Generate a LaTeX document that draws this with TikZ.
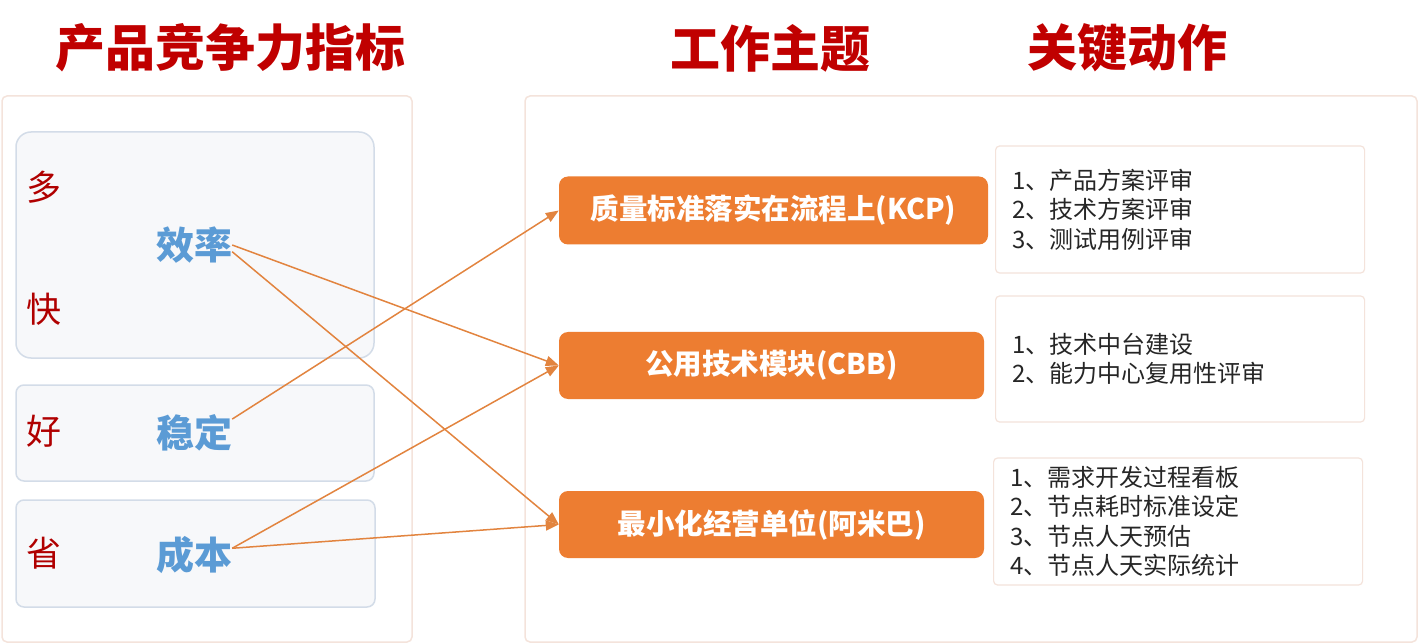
\documentclass[tikz,border=0pt]{standalone}
\usepackage{fontspec}
\setmainfont{Noto Sans CJK SC}
\usetikzlibrary{arrows.meta}
\definecolor{titlered}{HTML}{C00000}
\definecolor{labelred}{HTML}{B00000}
\definecolor{labelblue}{HTML}{5B9BD5}
\definecolor{topicorange}{HTML}{ED7D31}
\definecolor{linkorange}{HTML}{E2843F}
\definecolor{panelline}{HTML}{F4E3DB}
\definecolor{groupline}{HTML}{D3DCE8}
\definecolor{groupfill}{HTML}{F7F8FA}
\pgfdeclarelayer{background}
\pgfsetlayers{background,main}
\tikzstyle{title}=[inner sep=0pt, text=titlered, font=\bfseries\fontsize{50}{50}\selectfont]
\tikzstyle{red}=[inner sep=0pt, text=labelred, font=\fontsize{35}{35}\selectfont]
\tikzstyle{blue}=[inner sep=0pt, text=labelblue, font=\bfseries\fontsize{38}{38}\selectfont]
\tikzstyle{topic}=[rectangle, rounded corners=9pt, fill=topicorange, text=white,
    font=\bfseries\fontsize{28.5}{28.5}\selectfont, inner sep=0pt]
\tikzstyle{action}=[draw=panelline, line width=1.2pt, rounded corners=4pt, fill=white,
    anchor=west, text width=335pt, inner xsep=17pt, align=left, text=black!85,
    font=\fontsize{24}{29.5}\selectfont]
\tikzstyle{link}=[draw=linkorange, line width=1.5pt, -{Triangle[length=13pt,width=10pt]}]

\begin{document}
\begin{tikzpicture}[x=1pt,y=-1pt]
  \useasboundingbox (0,0) rectangle (1419,644);
  \node at (230, 48) (t1)[title] {产品竞争力指标};
  \node at (770, 48) (t2)[title] {工作主题};
  \node at (1127, 48) (t3)[title] {关键动作};

  \node at (44, 187) (duo)[red] {多};
  \node at (44, 309) (kuai)[red] {快};
  \node at (44, 431) (hao)[red] {好};
  \node at (44, 553) (sheng)[red] {省};

  \node at (194, 245) (eff)[blue] {效率};
  \node at (194, 433) (stab)[blue] {稳定};
  \node at (194, 555) (cost)[blue] {成本};

  \node[minimum width=429pt, minimum height=68pt] at (773.5, 210.5) (kcp)[topic] {质量标准落实在流程上(KCP)};
  \node[minimum width=425pt, minimum height=67pt] at (771.5, 365.5) (cbb)[topic] {公用技术模块(CBB)};
  \node[minimum width=425pt, minimum height=67pt] at (771.5, 524.5) (amb)[topic] {最小化经营单位(阿米巴)};

  \node[minimum height=127pt] at (995, 209.5) (a1)[action] {1、产品方案评审\\2、技术方案评审\\3、测试用例评审};
  \node[minimum height=126pt] at (995, 359) (a2)[action] {1、技术中台建设\\2、能力中心复用性评审};
  \node[minimum height=127pt] at (993, 521.5) (a3)[action] {1、需求开发过程看板\\2、节点耗时标准设定\\3、节点人天预估\\4、节点人天实际统计};

  \draw[link] (eff.east) -- (cbb.west);
  \draw[link] (eff.-10) -- (amb.west);
  \draw[link] (stab.20) -- (kcp.west);
  \draw[link] (cost.10) -- (cbb.west);
  \draw[link] (cost.10) -- (amb.west);

  \begin{pgfonlayer}{background}
    \path[draw=panelline, line width=1.5pt, rounded corners=5pt, fill=white]
        (2, 96) rectangle (412, 642);
    \path[draw=panelline, line width=1.5pt, rounded corners=5pt, fill=white]
        (525, 96) rectangle (1417, 642);
    \path[draw=groupline, line width=1.5pt, rounded corners=15pt, fill=groupfill]
        (16, 132) rectangle (374, 358);
    \path[draw=groupline, line width=1.5pt, rounded corners=8pt, fill=groupfill]
        (16, 385) rectangle (374, 481);
    \path[draw=groupline, line width=1.5pt, rounded corners=8pt, fill=groupfill]
        (16, 500) rectangle (375, 607);
  \end{pgfonlayer}
\end{tikzpicture}
\end{document}
